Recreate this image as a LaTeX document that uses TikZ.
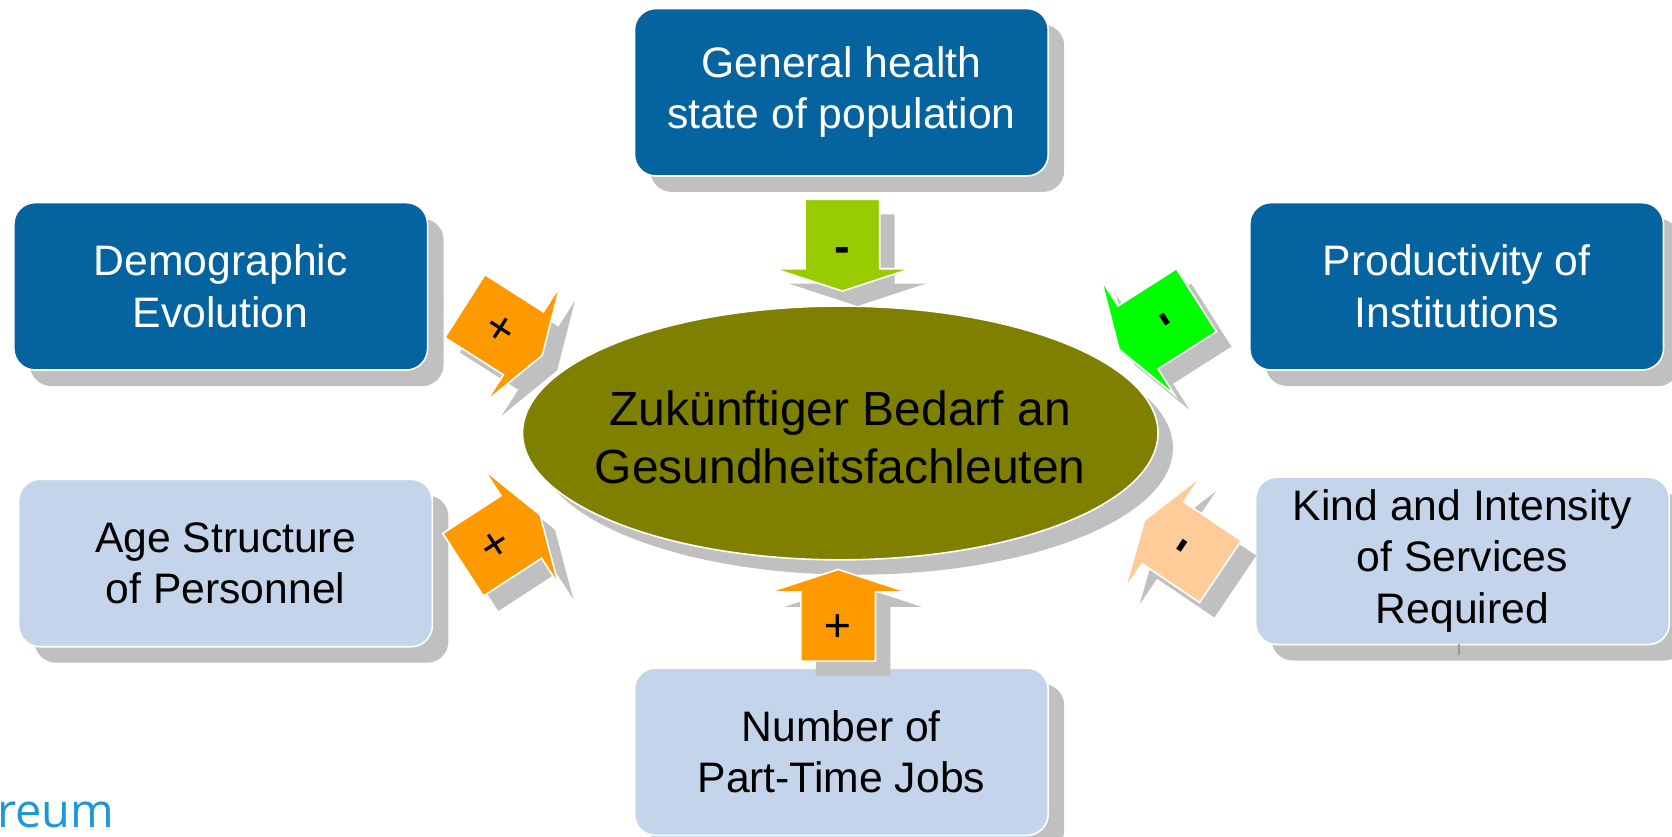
\documentclass[tikz,border=0pt]{standalone}
\usepackage{fontspec}
\setmainfont{Liberation Sans}
\newfontfamily\logofont{Open Sans}
\usetikzlibrary{shapes.geometric,shadows}
\definecolor{dblue}{RGB}{5,99,160}
\definecolor{lblue}{RGB}{196,213,235}
\definecolor{shgray}{RGB}{192,192,192}
\definecolor{olivec}{RGB}{128,128,0}
\definecolor{yellowgreen}{RGB}{153,204,0}
\definecolor{orangec}{RGB}{255,153,0}
\definecolor{greenc}{RGB}{0,255,0}
\definecolor{peach}{RGB}{255,204,153}
\definecolor{logoblue}{RGB}{28,152,213}
\tikzset{
  boxshadow/.style={drop shadow={shadow xshift=7.5pt,shadow yshift=-7.5pt,fill=shgray,opacity=1}},
  factor/.style={boxshadow, rounded corners=10pt, draw=white, line width=0.75pt, minimum width=194pt, minimum height=78.5pt, inner sep=0pt, align=center, font=\fontsize{20}{24}\selectfont},
  darkfactor/.style={factor, fill=dblue, text=white},
  lightfactor/.style={factor, fill=lblue, text=black},
  centreshadow/.style={fill=shgray},
  centrefill/.style={fill=olivec, draw=white, line width=0.75pt},
  centretext/.style={inner sep=0pt, align=center, font=\fontsize{22.5}{27.5}\selectfont},
  arrowshadow/.style={fill=shgray},
  arrowbody/.style={draw=white, line width=0.75pt, line join=miter},
  signlabel/.style={font=\fontsize{22}{22}\selectfont, inner sep=0pt, transform shape, rotate=90},
}
% name, colour, x, y, angle, sign, sign position along the arrow
\newcommand\blockarrow[7]{%
  \begin{scope}[shift={(#3+14,#4+14)}, rotate=#5]
    \fill[arrowshadow] (0,-35) -- (65,-35) -- (65,-64) -- (86,0) -- (65,64) -- (65,35) -- (0,35) -- cycle;
  \end{scope}
  \begin{scope}[shift={(#3,#4)}, rotate=#5]
    \filldraw[arrowbody, fill=#2] (0,-35) -- (65,-35) -- (65,-64) -- (86,0) -- (65,64) -- (65,35) -- (0,35) -- cycle;
    \node[signlabel] (#1) at (#7,0) {#6};
  \end{scope}}
\begin{document}
\begin{tikzpicture}[x=0.5pt,y=-0.5pt]
\useasboundingbox (0,0) rectangle (1568,784);
\clip (0,0) rectangle (1568,784);
% factor boxes
\node[darkfactor] (health) at (789,86.5) {General health\\state of population};
\node[darkfactor] (demo) at (207,268.5) {Demographic\\Evolution};
\node[darkfactor] (prod) at (1366,268.5) {Productivity of\\Institutions};
\node[lightfactor] (age) at (211.5,528) {Age Structure\\of Personnel};
\node[lightfactor] (kind) at (1371.5,526) {Kind and Intensity\\of Services\\Required};
\node[lightfactor] (part) at (789,705) {Number of\\Part-Time Jobs};
% central ellipse
\coordinate (needc) at (788,406);
\fill[centreshadow] ([shift={(14,14)}]needc) ellipse [x radius=298, y radius=119];
\filldraw[centrefill] (needc) ellipse [x radius=298, y radius=119];
\node[centretext] (need) at (788,410) {Zukünftiger Bedarf an\\Gesundheitsfachleuten};
% block arrows
\blockarrow{shealth}{yellowgreen}{790}{187}{-90}{\bfseries -}{52}
\blockarrow{sdemo}{orangec}{436}{287}{-32.5}{+}{42}
\blockarrow{sage}{orangec}{434.3}{529.6}{33}{+}{37}
\blockarrow{sprod}{greenc}{1122}{281.5}{-147.5}{\bfseries -}{39}
\blockarrow{skind}{peach}{1144.5}{536}{146}{\bfseries -}{48}
\blockarrow{spart}{orangec}{786}{620}{90}{+}{35}
% small mark and logo fragment
\coordinate (tickA) at (1368,604);
\coordinate (tickB) at (1368,614);
\draw[shgray!80!black, line width=1pt] (tickA) -- (tickB);
\node[anchor=base west, inner sep=0pt, text=logoblue, font=\logofont\fontsize{22}{26}\selectfont] (logo) at (-3,776) {reum};
\end{tikzpicture}
\end{document}
